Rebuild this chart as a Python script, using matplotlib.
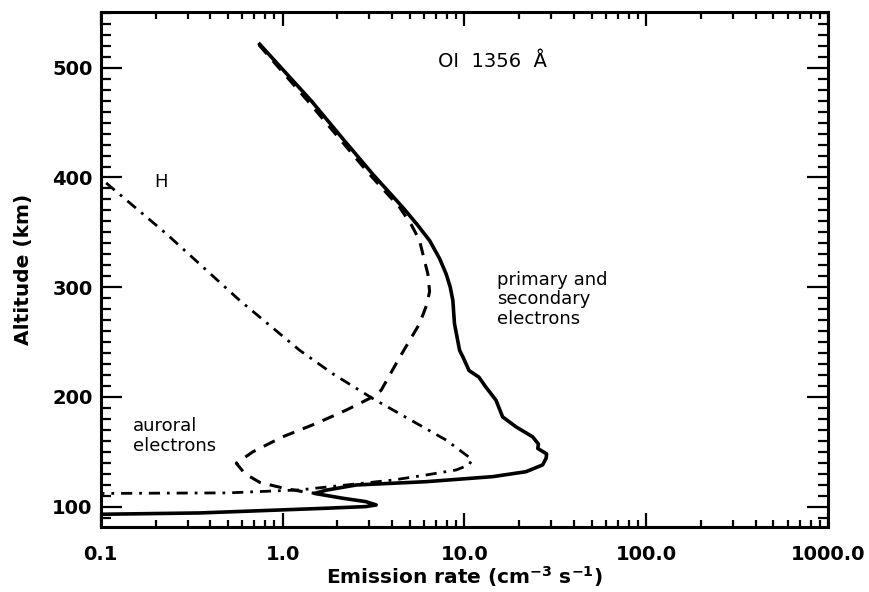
import matplotlib
matplotlib.use("Agg")
import matplotlib.pyplot as plt
from matplotlib.ticker import FixedLocator, MultipleLocator, LogLocator, NullFormatter

# Primary and secondary electrons (solid), listed from the top down
solid_x = [0.748, 1.44, 2.19, 3.13, 4.58, 5.5, 6.43, 7.3, 7.93, 8.35, 8.63, 8.81, 9.4,
           9.83, 10.6, 12.0, 13.1, 14.9, 16.2, 19.2, 23.7, 25.5, 25.3, 28.3, 28.1, 26.9,
           21.8, 14.3, 6.15, 2.54, 1.74, 1.5, 2.14, 2.87, 3.27, 2.87, 1.74, 1.0, 0.35, 0.1]
solid_alt = [521.5, 469.7, 433.4, 403, 372.7, 357, 342.5, 326, 312, 300, 288, 266.7, 242.5,
             236, 224, 218, 209, 197, 181.8, 172.7, 163.6, 157, 153, 148, 144, 138,
             131.8, 127.3, 122.7, 119.7, 115, 112, 107.6, 104.5, 101.5, 100, 98.5, 97,
             94.2, 93]

# Auroral electrons (dashed)
dash_x = [0.74, 1.37, 3.0, 4.4, 5.1, 5.66, 6.29, 6.43, 6.2, 5.66, 4.4, 3.48, 3.0, 2.24,
          1.53, 1.0, 0.687, 0.556, 0.62, 0.75, 1.0, 1.3, 1.55]
dash_alt = [521, 470, 403, 372.7, 357, 342.5, 312, 296, 284, 266.7, 236, 206, 198.5, 188,
            175.8, 163.6, 150, 139.5, 130, 122, 117, 113.5, 111.8]

# H (dash-dot)
h_x = [0.107, 0.23, 0.58, 1.24, 1.89, 3.13, 7.93, 9.4, 11.0, 10.6, 9.0, 6.15, 4.05,
       2.65, 1.24, 0.5, 0.1]
h_alt = [395, 348.5, 288, 242.5, 221, 198.5, 160.6, 151.5, 143, 138, 133.4, 128.8, 124.2,
         121, 115.2, 112.5, 112]

xticks = [0.1, 1.0, 10.0, 100.0, 1000.0]
xticklabels = ["0.1", "1.0", "10.0", "100.0", "1000.0"]
yticks = [100, 200, 300, 400, 500]

plt.rcParams['font.family'] = ['DejaVu Sans']
fig = plt.figure(figsize=(8.69, 5.92), dpi=100)
ax = fig.add_axes([0.116, 0.110, 0.837, 0.870])

ax.plot(solid_x, solid_alt, color='black', lw=2.6, solid_joinstyle='round')
ax.plot(dash_x, dash_alt, color='black', lw=2.2, linestyle=(0, (4, 3)))
ax.plot(h_x, h_alt, color='black', lw=2.0, linestyle=(0, (4, 2.5, 1, 2.5)))

ax.set_xscale('log')
ax.set_xlim(0.1, 1000)
ax.set_ylim(81.5, 551)

ax.xaxis.set_major_locator(FixedLocator(xticks))
ax.set_xticklabels(xticklabels)
ax.xaxis.set_minor_locator(LogLocator(base=10, subs=range(2, 10)))
ax.xaxis.set_minor_formatter(NullFormatter())
ax.yaxis.set_major_locator(FixedLocator(yticks))
ax.yaxis.set_minor_locator(MultipleLocator(10))

for s in ax.spines.values():
    s.set_linewidth(2.2)

ax.tick_params(axis='x', which='major', direction='in', length=10, width=1.6,
               top=True, bottom=True, labelsize=14, pad=13)
ax.tick_params(axis='x', which='minor', direction='in', length=5, width=1.6,
               top=True, bottom=True)
ax.tick_params(axis='y', which='major', direction='in', length=15, width=1.6,
               left=True, right=True, labelsize=14, pad=6)
ax.tick_params(axis='y', which='minor', direction='in', length=7, width=1.6,
               left=True, right=True)
for lab in ax.get_xticklabels() + ax.get_yticklabels():
    lab.set_fontweight('bold')

ax.set_xlabel("Emission rate (cm$^{\\mathbf{-3}}$ s$^{\\mathbf{-1}}$)", fontsize=14.5,
              fontweight='bold', labelpad=0)
ax.set_ylabel("Altitude (km)", fontsize=14.5, fontweight='bold', labelpad=14)

ax.text(0.538, 0.904, "OI  1356  Å", transform=ax.transAxes, fontsize=14,
        ha='center', va='center')
ax.text(0.083, 0.669, "H", transform=ax.transAxes, fontsize=13, ha='center', va='center')
ax.text(0.545, 0.497, "primary and\nsecondary\nelectrons", transform=ax.transAxes,
        fontsize=13, ha='left', va='top', linespacing=1.1)
ax.text(0.044, 0.213, "auroral\nelectrons", transform=ax.transAxes,
        fontsize=13, ha='left', va='top', linespacing=1.1)

fig.savefig("out.png", dpi=100)
